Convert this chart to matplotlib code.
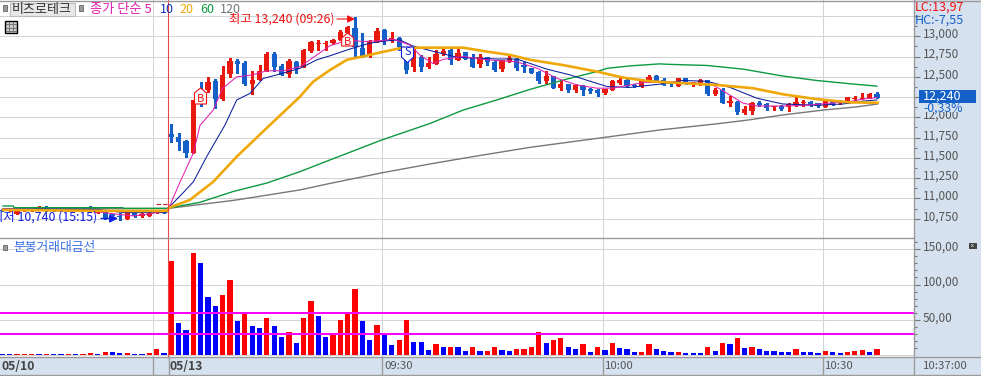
import numpy as np
import matplotlib
matplotlib.use("Agg")
import matplotlib.pyplot as plt
from matplotlib.patches import Rectangle, Polygon
from matplotlib.transforms import ScaledTranslation

plt.rcParams['font.family'] = ['Noto Sans CJK KR', 'DejaVu Sans']

# === DATA ===
# bar index: 0 = 09:01 on 05/13, negative = 05/10
open_prev = [10860, 10850, 10810, 10845, 10845, 10860, 10885, 10870, 10870, 10845, 10870, 10875,
             10870, 10820, 10835, 10800, 10785, 10750, 10820, 10785, 10785, 10820, 10825]
high_prev = [10865, 10865, 10860, 10875, 10870, 10905, 10905, 10875, 10875, 10880, 10875, 10880,
             10905, 10840, 10840, 10810, 10820, 10840, 10825, 10815, 10830, 10830, 10830]
low_prev = [10850, 10845, 10805, 10840, 10840, 10855, 10845, 10840, 10840, 10840, 10840, 10850,
            10835, 10815, 10745, 10790, 10740, 10745, 10770, 10775, 10780, 10815, 10815]
close_prev = [10850, 10860, 10855, 10870, 10865, 10900, 10860, 10845, 10845, 10875, 10845, 10850,
              10850, 10835, 10750, 10790, 10775, 10835, 10785, 10810, 10820, 10825, 10820]

open_p = [11800, 11760, 11710, 11560, 12310, 12340, 12450, 12225, 12535, 12690,
          12670, 12410, 12460, 12570, 12780, 12635, 12535, 12685, 12620, 12820,
          12900, 12905, 12915, 12960, 13040, 13100, 12855, 12760, 12935, 13080,
          12940, 12975, 12710, 12625, 12745, 12625, 12660, 12780, 12830, 12710,
          12805, 12745, 12660, 12745, 12685, 12600, 12690, 12720, 12640, 12610,
          12560, 12450, 12510, 12365, 12415, 12340, 12385, 12350, 12340, 12300,
          12340, 12425, 12460, 12400, 12385, 12450, 12510, 12460, 12420, 12385,
          12485, 12425, 12420, 12460, 12285, 12340, 12175, 12190, 12055, 12080,
          12175, 12165, 12130, 12140, 12130, 12150, 12175, 12190, 12175, 12130,
          12200, 12175, 12175, 12225, 12225, 12240, 12290]
high_p = [11920, 11810, 11720, 12220, 12440, 12500, 12470, 12635, 12735, 12720,
          12695, 12570, 12645, 12805, 12805, 12660, 12720, 12695, 12845, 12940,
          12955, 12940, 12970, 13080, 13130, 13240, 13040, 12950, 13100, 13090,
          13050, 12990, 12740, 12855, 12770, 12750, 12830, 12860, 12855, 12860,
          12805, 12780, 12780, 12745, 12710, 12710, 12760, 12735, 12680, 12610,
          12575, 12570, 12510, 12460, 12415, 12415, 12400, 12360, 12350, 12350,
          12460, 12485, 12470, 12415, 12460, 12525, 12525, 12485, 12440, 12490,
          12490, 12435, 12470, 12460, 12365, 12365, 12265, 12200, 12140, 12190,
          12200, 12175, 12140, 12150, 12175, 12250, 12215, 12200, 12175, 12225,
          12215, 12215, 12250, 12265, 12300, 12300, 12315]
low_p = [11700, 11600, 11510, 11560, 12140, 12310, 12115, 12215, 12500, 12550,
         12400, 12290, 12460, 12570, 12570, 12520, 12500, 12550, 12620, 12805,
         12830, 12830, 12905, 12950, 13000, 12730, 12750, 12750, 12925, 12900,
         12925, 12825, 12545, 12575, 12575, 12610, 12660, 12770, 12660, 12710,
         12720, 12620, 12620, 12645, 12570, 12570, 12680, 12585, 12560, 12550,
         12420, 12425, 12365, 12340, 12315, 12315, 12275, 12300, 12265, 12285,
         12340, 12410, 12370, 12375, 12375, 12435, 12435, 12400, 12390, 12385,
         12410, 12390, 12400, 12270, 12270, 12175, 12140, 12040, 12040, 12040,
         12140, 12090, 12090, 12090, 12080, 12140, 12140, 12140, 12130, 12130,
         12150, 12165, 12175, 12215, 12225, 12240, 12240]
close_p = [11755, 11700, 11555, 12215, 12175, 12440, 12225, 12520, 12695, 12660,
           12410, 12460, 12570, 12780, 12620, 12520, 12695, 12600, 12830, 12930,
           12920, 12920, 12960, 13050, 13120, 12870, 12760, 12945, 13065, 12945,
           12975, 12870, 12585, 12745, 12625, 12665, 12780, 12815, 12710, 12790,
           12720, 12620, 12745, 12685, 12585, 12710, 12735, 12615, 12625, 12550,
           12450, 12510, 12365, 12415, 12340, 12400, 12340, 12325, 12300, 12350,
           12450, 12460, 12385, 12385, 12460, 12500, 12450, 12400, 12410, 12485,
           12410, 12435, 12460, 12285, 12340, 12175, 12200, 12065, 12105, 12175,
           12150, 12115, 12140, 12105, 12165, 12190, 12190, 12150, 12140, 12200,
           12165, 12200, 12250, 12240, 12240, 12290, 12240]

vol_prev = [1, 1, 1, 1, 1, 1, 1, 1, 1, 1, 1, 1, 2.5, 1, 4, 4, 2.5, 2.5, 1, 1, 2.5, 8, 2.5]
up_prev = [0, 0, 1, 1, 1, 0, 1, 0, 0, 1, 0, 1, 1, 0, 1, 0, 0, 1, 0, 0, 1, 1, 0]
vol = [133, 46, 36, 145, 130, 83, 70, 84.5, 107, 48,
       58, 41, 39, 52, 41, 26, 32, 16.5, 53, 77,
       55, 26, 28, 49, 59, 94, 48, 21, 42, 29,
       14, 21, 50, 18, 18, 7, 15, 11, 11, 11,
       5, 11, 5, 5, 12, 7, 5, 8, 8, 11,
       32, 16.5, 21, 24, 11, 8, 15, 4, 11, 7,
       16.5, 9.5, 8, 4, 4, 15, 8, 5, 4, 4,
       2.5, 2.5, 2.5, 11, 5, 16.5, 15, 24, 9.5, 11,
       8, 5, 5, 4, 4, 8, 4, 4, 2.5, 5,
       4, 2.5, 4, 5, 7, 4, 8]
vol_up = [1, 0, 0, 1, 0, 0, 0, 1, 1, 0,
          1, 0, 0, 1, 0, 0, 1, 0, 1, 1,
          0, 0, 1, 1, 1, 1, 0, 0, 1, 0,
          0, 1, 1, 0, 0, 0, 1, 0, 1, 0,
          0, 1, 0, 1, 1, 0, 0, 1, 1, 1,
          1, 0, 1, 1, 0, 0, 1, 0, 1, 0,
          1, 0, 0, 0, 1, 1, 0, 0, 0, 1,
          0, 0, 0, 1, 0, 1, 0, 1, 0, 1,
          0, 0, 0, 0, 0, 1, 0, 0, 0, 1,
          0, 0, 1, 1, 1, 0, 1]

ma5_x = [-22.9, -10, -6.5, -5.2, -2.9, -0.6, -0.1, 1.2, 3, 3.9, 5.7, 7, 8.9, 11.1, 13, 15.2, 17.5, 19.8, 21.6,
         24.2, 26.1, 28.4, 30.2, 32.5, 33.8, 35.6, 37, 39.7, 43, 47, 49.8, 52.5, 55.2, 57.9, 60.1, 61.5,
         64.2, 66.5, 71.9, 73.7, 76, 77.8, 79.7, 83.2, 86.5, 89.6, 92.3, 94.1, 96]
ma5 = [10870, 10834, 10796, 10784, 10809, 10860, 10930, 11205, 11560, 11900, 12090, 12360, 12500, 12525, 12575, 12575, 12625, 12770, 12885,
       12955, 12935, 12945, 12965, 12890, 12770, 12665, 12715, 12750, 12710, 12685, 12605, 12480, 12400, 12360, 12360, 12385,
       12430, 12440, 12420, 12400, 12275, 12175, 12140, 12140, 12150, 12175, 12195, 12225, 12245]
ma10_x = [-22.9, -10, -6.5, -0.6, -0.4, 1.6, 3, 4.9, 7.3, 8.9, 10.7, 12.5, 14.8, 17.5, 19.8, 21.6, 24.2, 27, 29.3,
          31.1, 32.9, 35.2, 38.9, 44.3, 47, 51.1, 54.2, 59.3, 62.4, 66.5, 69.6, 72.9, 76, 79.7, 83.2, 87.8, 91.4, 94.1, 96]
ma10 = [10870, 10865, 10825, 10825, 10882, 11070, 11205, 11530, 11905, 12215, 12295, 12480, 12535, 12605, 12710, 12760, 12840, 12915, 12945,
        12955, 12880, 12825, 12740, 12720, 12720, 12595, 12525, 12380, 12370, 12410, 12455, 12445, 12370, 12235, 12165, 12150, 12165, 12200, 12215]
ma20_x = [-22.9, -8.1, -0.6, -0.2, 2.5, 5.7, 8.9, 13, 17.5, 19.3, 21.6, 23.9, 26, 28.4, 31, 33.8, 39.7, 43, 46.1, 48.8,
          53.3, 57.9, 61.5, 65.2, 67.9, 74.2, 79.1, 83.2, 87.8, 92.3, 96.1]
ma20 = [10858, 10846, 10846, 10890, 10980, 11205, 11515, 11870, 12255, 12440, 12585, 12710, 12750, 12800, 12850, 12860, 12860, 12810, 12770, 12710,
        12645, 12565, 12490, 12445, 12430, 12400, 12360, 12285, 12225, 12185, 12180]
ma60_x = [-22.9, -21.5, -21.4, -6.6, -6.5, -0.6, 3.9, 8.4, 13, 17.5, 21.6, 28.6, 35.2, 39.7, 44.3, 48.8, 53.3, 57.9, 59.3,
          62.4, 66.5, 67.4, 72.9, 77.8, 83.2, 87.8, 92.3, 96]
ma60 = [10907, 10907, 10886, 10886, 10878, 10878, 10952, 11085, 11190, 11330, 11475, 11720, 11925, 12090, 12215, 12345, 12460, 12565, 12605,
        12635, 12660, 12655, 12640, 12595, 12510, 12455, 12415, 12385]
ma120_x = [-22.9, -0.6, 3.9, 8.4, 13, 17.5, 21.6, 28.6, 35.2, 41, 48.8, 58.7, 66.5, 74.2, 78.7, 83.2, 88.7, 93.3, 96.1]
ma120 = [10870, 10875, 10925, 10975, 11040, 11105, 11185, 11315, 11425, 11515, 11630, 11750, 11845, 11920, 11970, 12030, 12090, 12130, 12165]

price_ticks = [10750, 11000, 11250, 11500, 11750, 12000, 12250, 12500, 12750, 13000, 13250]
price_labels = ["10,750", "11,000", "11,250", "11,500", "11,750", "12,000", "", "12,500", "12,750", "13,000", ""]
vol_ticks = [50, 100, 150]
vol_labels = ["50,00", "100,00", "150,00"]
vol_levels = [30, 60]
prev_close = 10927
time_grid = [-2.5, 28.7, 58.7, 88.7]
date_line = -0.4

# === COLOURS ===
RED = "#E8190E"
BLUE = "#1560C8"
GRID = "#D4D4D4"
STRIP = "#D6E1EF"
EDGE = "#9A9A9A"
TXT = "#555555"

W, H = 981, 376
fig = plt.figure(figsize=(W / 100, H / 100), dpi=100, facecolor="white")


def axes_px(x0, y0, x1, y1, **kw):
    return fig.add_axes([x0 / W, 1 - y1 / H, (x1 - x0) / W, (y1 - y0) / H], **kw)


bg = axes_px(0, 0, W, H, zorder=0)
ax = axes_px(0, 0, 914, 238, zorder=1)
ax2 = axes_px(0, 238, 914, 356.5, zorder=2)
ov = axes_px(0, 0, W, H, zorder=5)
for a in (bg, ov):
    a.set_xlim(0, W)
    a.set_ylim(H, 0)
    a.axis("off")
ov.patch.set_alpha(0)

bg.add_patch(Rectangle((914, 0), 67, 376, fc=STRIP, ec="none"))
bg.add_patch(Rectangle((0, 357), 914, 18, fc=STRIP, ec="none"))

# x scale: one bar = 7.35 px, bar 0 at px 171.3
xlim = ((0 - 171.3) / 7.35, (914 - 171.3) / 7.35)
ax.set_xlim(*xlim)
ax2.set_xlim(*xlim)
ax.set_ylim(13000 - (238 - 36.3) * 12.336, 13000 + 36.3 * 12.336)
ax2.set_ylim(-2.1, 166)

for a in (ax, ax2):
    a.patch.set_alpha(0)
    for s in a.spines.values():
        s.set_visible(False)
    a.yaxis.tick_right()
    a.set_xticks([])
    a.set_axisbelow(True)

label_up = ScaledTranslation(0, 2.5 / 72, fig.dpi_scale_trans)

# === PRICE PANEL ===
ax.set_yticks(price_ticks)
ax.set_yticklabels(price_labels, fontsize=8.5, color=TXT)
ax.set_yticks(np.array(price_ticks[:-1]) + 125, minor=True)
ax.tick_params(axis="y", which="major", length=4.3, width=0.8, color="#777777", pad=2)
ax.tick_params(axis="y", which="minor", length=2.2, width=0.8, color="#777777")
ax.grid(axis="y", color=GRID, lw=0.75)
for t in time_grid:
    ax.axvline(t, color=GRID, lw=0.75, zorder=0.5)
    ax2.axvline(t, color=GRID, lw=0.75, zorder=0.5)
ax.axvline(date_line, color="#E8454A", lw=0.8, zorder=6)
ax2.axvline(date_line, color="#E8454A", lw=0.8, zorder=6)

o = np.array(open_prev + open_p, dtype=float)
h = np.array(high_prev + high_p, dtype=float)
l = np.array(low_prev + low_p, dtype=float)
c = np.array(close_prev + close_p, dtype=float)
xs = np.arange(len(o)) - len(open_prev)
cols = [RED if cc >= oo else BLUE for oo, cc in zip(o, c)]

ax.vlines(xs, l, h, colors=cols, lw=0.75, zorder=2, antialiased=False)
body = np.maximum(np.abs(c - o), 12)
ax.bar(xs, body, bottom=np.minimum(o, c), width=0.72, color=cols, zorder=2, antialiased=False)

ax.plot(ma120_x, ma120, color="#777777", lw=1.0, zorder=3)
ax.plot(ma60_x, ma60, color="#0C9A40", lw=1.0, zorder=3)
ax.plot(ma10_x, ma10, color="#0A1E9E", lw=0.75, zorder=3)
ax.plot(ma5_x, ma5, color="#E020B0", lw=0.75, zorder=3)
ax.plot(ma20_x, ma20, color="#F0A808", lw=1.9, zorder=4)
ax.plot([-2.1, date_line], [prev_close, prev_close], color="#C02020", lw=0.8, ls=(0, (4, 2)), zorder=3)

# === VOLUME PANEL ===
v = np.array(vol_prev + vol, dtype=float)
up = np.array(up_prev + vol_up)
ax2.bar(xs, v, width=0.72, color=np.where(up == 1, "#FF0000", "#0000FF"), zorder=2, antialiased=False)
ax2.set_yticks(vol_ticks)
ax2.set_yticklabels(vol_labels, fontsize=8.5, color=TXT)
ax2.set_yticks(np.arange(10, 170, 10), minor=True)
ax2.tick_params(axis="y", which="major", length=4.3, width=0.8, color="#777777", pad=2)
ax2.tick_params(axis="y", which="minor", length=2.2, width=0.8, color="#777777")
ax2.grid(axis="y", color=GRID, lw=0.75)
ax2.axhline(0, color=GRID, lw=0.75, zorder=1)
for lv in vol_levels:
    ax2.axhline(lv, color="#FF00FF", lw=1.45, zorder=3)

for a in (ax, ax2):
    for lab in a.get_yticklabels():
        lab.set_transform(lab.get_transform() + label_up)

# === SIGNAL MARKERS ===
def marker(cx, top, bottom, shoulder, letter, col, point_up=True):
    hw = 6
    if point_up:
        pts = [(cx, top), (cx + hw, shoulder), (cx + hw, bottom), (cx - hw, bottom), (cx - hw, shoulder)]
    else:
        pts = [(cx - hw, top), (cx + hw, top), (cx + hw, shoulder), (cx, bottom), (cx - hw, shoulder)]
    ov.add_patch(Polygon(pts, closed=True, fc="white", ec=col, lw=0.8))
    mid = (shoulder + bottom) / 2 if point_up else (top + shoulder) / 2
    ov.text(cx, mid, letter, color=col, fontsize=8, ha="center", va="center")


marker(200.5, 88, 104, 93, "B", "#F01010")
marker(347.7, 33, 46, 38, "B", "#F01010")
marker(407.5, 47, 62.7, 57, "S", "#1020E0", point_up=False)

# === OVERLAY TEXT ===
ov.text(229, 19, "최고 13,240 (09:26)", color="#F01010", fontsize=8.9, va="center", ha="left")
ov.annotate("", xy=(355, 19), xytext=(337, 19),
            arrowprops=dict(arrowstyle="-|>", color="#F01010", lw=0.8, mutation_scale=11, shrinkA=0, shrinkB=0))
ov.text(97, 217, "최저 10,740 (15:15)", color="#1020E0", fontsize=8.9, va="center", ha="right")
ov.annotate("", xy=(118, 218.5), xytext=(101, 218.5),
            arrowprops=dict(arrowstyle="-|>", color="#1020E0", lw=1.0, mutation_scale=12, shrinkA=0, shrinkB=0))

# header
ov.add_patch(Rectangle((2.5, 5), 4.5, 6, fc="#999999", ec="#666666", lw=0.6))
ov.add_patch(Rectangle((9.5, 3), 65, 13, fc="#E8E8E8", ec="#BBBBBB", lw=0.8))
ov.text(42, 9.5, "비츠로테크", color="#333333", fontsize=9.4, ha="center", va="center")
ov.add_patch(Rectangle((78.5, 5), 4.5, 6, fc="#999999", ec="#666666", lw=0.6))
ov.text(90, 9.5, "종가 단순 5", color="#E020B0", fontsize=9.5, va="center")
ov.text(160, 9.5, "10", color="#1030C0", fontsize=9, va="center")
ov.text(179, 9.5, "20", color="#F0A808", fontsize=9, va="center")
ov.text(200, 9.5, "60", color="#0C9A40", fontsize=9, va="center")
ov.text(220, 9.5, "120", color="#777777", fontsize=9, va="center")

# small table icon
ov.add_patch(Rectangle((4.5, 20.5), 12.5, 12.5, fc="#CCCCCC", ec="black", lw=1))
for g in (8.5, 12.5):
    ov.plot([g, g], [22, 32], color="#777777", lw=0.7)
for g in (24, 27.5, 30.5):
    ov.plot([6, 16], [g, g], color="#777777", lw=0.7)

# right side readouts
ov.text(915, 7.5, "LC:13,97", color="#F01010", fontsize=9, va="center")
ov.text(915, 20, "HC:-7,55", color=BLUE, fontsize=9, va="center")
ov.add_patch(Rectangle((919, 90), 57, 13, fc=BLUE, ec="none"))
ov.text(923, 96.5, "12,240", color="white", fontsize=9, va="center")
ov.add_patch(Rectangle((921, 103), 55, 9, fc=STRIP, ec="none"))
ov.text(923, 108, "-0,33%", color=BLUE, fontsize=8.8, va="center")
ov.add_patch(Rectangle((969, 243), 7.5, 5.5, fc="#444444", ec="none"))
ov.text(972.7, 245.6, "x", color="white", fontsize=4, ha="center", va="center")

# volume title
ov.add_patch(Rectangle((2.5, 245), 4.5, 5, fc="#999999", ec="#666666", lw=0.6))
ov.text(13, 247, "분봉거래대금선", color="#3A70E8", fontsize=9.2, va="center")

# frame lines
ov.plot([0, W], [0.5, 0.5], color=EDGE, lw=1)
ov.plot([0, 914], [238, 238], color=EDGE, lw=1)
ov.plot([0, 914], [356.5, 356.5], color=EDGE, lw=1)
ov.plot([0, W], [375, 375], color=EDGE, lw=1)
ov.plot([914, 914], [0, 375], color=EDGE, lw=1)
ov.plot([914, W], [356.5, 356.5], color=EDGE, lw=1)
for sep in (153.3, 168.5, 382.3, 603.3, 823.3):
    ov.plot([sep, sep], [357, 375], color=EDGE, lw=1)

# time axis text
ov.text(1, 366, "05/10", color="#444444", fontsize=8.8, fontweight="bold", va="center")
ov.text(170, 366, "05/13", color="#444444", fontsize=8.8, fontweight="bold", va="center")
ov.text(384, 366, "09:30", color=TXT, fontsize=8.2, va="center")
ov.text(605, 366, "10:00", color=TXT, fontsize=8.2, va="center")
ov.text(825, 366, "10:30", color=TXT, fontsize=8.2, va="center")
ov.text(923, 366, "10:37:00", color=TXT, fontsize=8.2, va="center")

fig.savefig("out.png", dpi=100, facecolor="white")
